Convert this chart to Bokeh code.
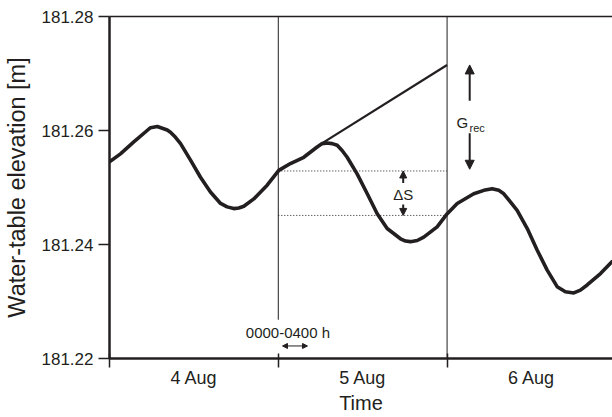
from bokeh.plotting import figure
from bokeh.models import (Range1d, FixedTicker, LinearAxis, Arrow, NormalHead,
                          PrintfTickFormatter)
from bokeh.core.properties import value
from bokeh.embed import file_html
from bokeh.resources import INLINE

# ---- data (time in days since 4 Aug 00:00, water-table elevation in m) ----
time_days = [0.000, 0.065, 0.144, 0.223, 0.243, 0.283, 0.342, 0.361, 0.391, 0.421,
             0.480, 0.539, 0.598, 0.658, 0.697, 0.736, 0.766, 0.796, 0.855, 0.934,
             1.003, 1.072, 1.151, 1.230, 1.260, 1.290, 1.319, 1.349, 1.378, 1.408,
             1.467, 1.527, 1.586, 1.645, 1.724, 1.754, 1.783, 1.823, 1.862, 1.941,
             2.001, 2.060, 2.158, 2.218, 2.267, 2.306, 2.336, 2.415, 2.475, 2.534,
             2.593, 2.652, 2.701, 2.751, 2.790, 2.830, 2.909, 2.978]
elevation_m = [181.2545, 181.2559, 181.2580, 181.2600, 181.2605, 181.2607, 181.2601,
               181.2597, 181.2588, 181.2577, 181.2548, 181.2518, 181.2492, 181.2472,
               181.2466, 181.2463, 181.2464, 181.2467, 181.2480, 181.2504, 181.2530,
               181.2542, 181.2553, 181.2571, 181.2577, 181.2578, 181.2577, 181.2574,
               181.2565, 181.2553, 181.2524, 181.2489, 181.2454, 181.2428, 181.2410,
               181.2406, 181.2405, 181.2407, 181.2413, 181.2431, 181.2454, 181.2472,
               181.2489, 181.2495, 181.2498, 181.2495, 181.2489, 181.2460, 181.2428,
               181.2390, 181.2355, 181.2326, 181.2317, 181.2315, 181.2320, 181.2329,
               181.2349, 181.2370]
day_labels = ["4 Aug", "5 Aug", "6 Aug"]
day_centres = [0.5, 1.5, 2.5]
day_bounds = [0, 1, 2, 3]
y_ticks = [181.22, 181.24, 181.26, 181.28]

# extrapolated rise line (G_rec) and storage-change levels (Delta S)
rise_t = [1.256, 2.0]
rise_v = [181.2577, 181.2715]
ds_upper = 181.2529
ds_lower = 181.2451

FONT = "Liberation Sans"
INK = "#231f20"

p = figure(width=612, height=417, output_backend="svg", toolbar_location=None,
           x_range=Range1d(0, 2.98), y_range=Range1d(181.22, 181.28),
           min_border_left=109, min_border_right=0, min_border_top=16,
           min_border_bottom=59)
p.outline_line_color = None
p.xgrid.visible = False
p.ygrid.visible = False
p.background_fill_color = "white"
p.border_fill_color = "white"

# y axis
ya = p.yaxis[0]
ya.ticker = FixedTicker(ticks=y_ticks)
ya.formatter = PrintfTickFormatter(format="%.2f")
ya.major_tick_in = 0
ya.major_tick_out = 11
ya.minor_tick_line_color = None
ya.axis_line_width = 2.5
ya.axis_line_color = INK
ya.major_tick_line_color = INK
ya.major_tick_line_width = 1.5
ya.major_label_text_font = FONT
ya.major_label_text_font_size = "17px"
ya.major_label_text_color = INK
ya.major_label_standoff = 5
ya.axis_label = "Water-table elevation [m]"
ya.axis_label_text_font = FONT
ya.axis_label_text_font_size = "23.5px"
ya.axis_label_text_font_style = "normal"
ya.axis_label_text_color = INK
ya.axis_label_standoff = 9

# x axis
xa = p.xaxis[0]
xa.ticker = FixedTicker(ticks=day_centres, minor_ticks=day_bounds)
xa.major_label_overrides = {c: l for c, l in zip(day_centres, day_labels)}
xa.major_tick_line_color = None
xa.major_tick_in = 0
xa.major_tick_out = 9
xa.minor_tick_in = 5
xa.minor_tick_out = 9
xa.minor_tick_line_width = 1.5
xa.minor_tick_line_color = INK
xa.axis_line_width = 2.5
xa.axis_line_color = INK
xa.major_label_text_font = FONT
xa.major_label_text_font_size = "18px"
xa.major_label_text_color = INK
xa.major_label_standoff = 0
xa.axis_label = "Time"
xa.axis_label_text_font = FONT
xa.axis_label_text_font_size = "20px"
xa.axis_label_text_font_style = "normal"
xa.axis_label_text_color = INK
xa.axis_label_standoff = 1

# top border line
top = LinearAxis(ticker=FixedTicker(ticks=[]), major_label_text_font_size="0px",
                 major_tick_out=0, major_tick_in=0, major_label_standoff=0,
                 axis_line_width=1.5, axis_line_color=INK)
p.add_layout(top, "above")

# day divider lines
p.line(x=[day_bounds[1], day_bounds[1]], y=[181.28, 181.2268], line_color=INK, line_width=1)
p.line(x=[day_bounds[2], day_bounds[2]], y=[181.28, 181.22], line_color=INK, line_width=1)

# storage change dotted lines
p.line(x=[day_bounds[1], day_bounds[2]], y=[ds_upper, ds_upper], line_color=INK,
       line_width=1, line_dash="1 2")
p.line(x=[day_bounds[1], day_bounds[2]], y=[ds_lower, ds_lower], line_color=INK,
       line_width=1, line_dash="1 2")

# rise line
p.line(x=rise_t, y=rise_v, line_color=INK, line_width=2.2)

# hydrograph
p.line(x=time_days, y=elevation_m, line_color=INK, line_width=3.6,
       line_join="round", line_cap="round")

def arrow(x0, y0, x1, y1, size=9, both=False):
    head = NormalHead(size=size, fill_color=INK, line_color=INK, line_width=1)
    start = NormalHead(size=size, fill_color=INK, line_color=INK, line_width=1) if both else None
    p.add_layout(Arrow(x_start=x0, y_start=y0, x_end=x1, y_end=y1, end=head, start=start,
                       line_color=INK, line_width=2 if not both else 1))

# G_rec arrows
g_x = 2.134
arrow(g_x, 181.2652, g_x, 181.2715)
arrow(g_x, 181.2595, g_x, 181.2532)
# Delta S arrows
s_x = 1.740
arrow(s_x, 181.2508, s_x, 181.2529, size=7)
arrow(s_x, 181.2470, s_x, 181.2451, size=7)
# 0000-0400 h arrow
arrow(1.025, 181.2222, 1.173, 181.2222, size=5, both=True)

# texts
p.text(x=[2.056], y=[181.2614], text=["G"], text_font=value(FONT), text_font_size="15px",
       text_color=INK, text_align="left", text_baseline="alphabetic")
p.text(x=[2.133], y=[181.2604], text=["rec"], text_font=value(FONT), text_font_size="11px",
       text_color=INK, text_align="left", text_baseline="alphabetic")
p.text(x=[s_x], y=[181.2488], text=["\u0394S"], text_font=value(FONT), text_font_size="15px",
       text_color=INK, text_align="center", text_baseline="middle")
p.text(x=[1.057], y=[181.2245], text=["0000-0400 h"], text_font=value(FONT),
       text_font_size="15px", text_color=INK, text_align="center", text_baseline="middle")

open("out.html", "w").write(file_html(p, INLINE))
